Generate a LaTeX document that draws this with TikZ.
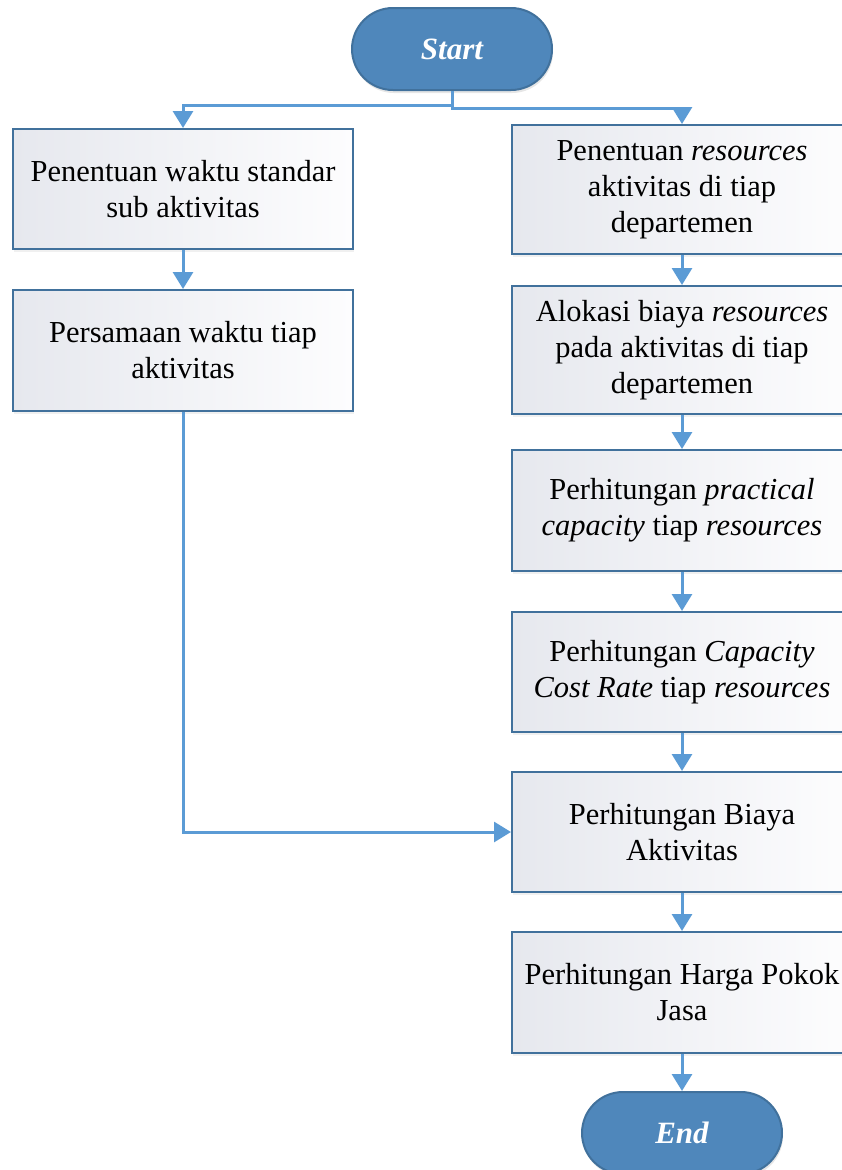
\documentclass[tikz,border=0pt]{standalone}
\usepackage{fontspec}
\setmainfont{Liberation Serif}
\usetikzlibrary{arrows.meta,shadows}
\definecolor{edge}{HTML}{41719C}
\definecolor{flow}{HTML}{5B9BD5}
\definecolor{term}{HTML}{4F87BB}
\definecolor{boxleft}{HTML}{E6E8EE}
\definecolor{boxright}{HTML}{FDFDFE}
\tikzset{
  procbox/.style={draw=edge, line width=2pt, rectangle, left color=boxleft, right color=boxright,
    minimum width=340pt, minimum height=120pt, inner sep=0pt, align=center,
    font=\fontsize{30.5}{36}\selectfont,
    drop shadow={shadow xshift=1pt, shadow yshift=-2.5pt, opacity=0.12}},
  terminal/.style={draw=edge, line width=2pt, rectangle, rounded corners=41pt, fill=term,
    minimum width=200pt, minimum height=82pt, inner sep=0pt, text=white,
    font=\fontsize{31}{36}\selectfont\bfseries\itshape,
    drop shadow={shadow xshift=1pt, shadow yshift=-3pt, opacity=0.2}},
  flowline/.style={draw=flow, line width=3pt, -{Triangle[width=20pt,length=17pt]}},
}
\begin{document}
\begin{tikzpicture}[x=1pt,y=-1pt]
  \useasboundingbox (0,0) rectangle (842,1170);
  \clip (0,0) rectangle (842,1170);

  % start / end terminators
  \node[terminal] (start) at (452,49) {Start};
  \node[terminal] (end) at (682,1133) {End};

  % left column
  \node[procbox] (L1) at (183,189) {Penentuan waktu standar\\sub aktivitas};
  \node[procbox, minimum height=121pt] (L2) at (183,350.5) {Persamaan waktu tiap\\aktivitas};

  % right column
  \node[procbox, minimum height=129pt] (R1) at (682,189.5) {Penentuan \textit{resources}\\aktivitas di tiap\\departemen};
  \node[procbox, minimum height=128pt] (R2) at (682,350) {Alokasi biaya \textit{resources}\\pada aktivitas di tiap\\departemen};
  \node[procbox, minimum height=121pt] (R3) at (682,510.5) {Perhitungan \textit{practical}\\\textit{capacity} tiap \textit{resources}};
  \node[procbox] (R4) at (682,672) {Perhitungan \textit{Capacity}\\\textit{Cost Rate} tiap \textit{resources}};
  \node[procbox] (R5) at (682,832) {Perhitungan Biaya\\Aktivitas};
  \node[procbox, minimum height=121pt] (R6) at (682,992.5) {Perhitungan Harga Pokok\\Jasa};

  % connectors
  \draw[flowline] (start.south) -- ++(0,14) -| (L1.north);
  \draw[flowline] (start.south) -- ++(0,17) -| (R1.north);
  \draw[flowline] (L1) -- (L2);
  \draw[flowline] (L2.south) |- (R5.west);
  \draw[flowline] (R1) -- (R2);
  \draw[flowline] (R2) -- (R3);
  \draw[flowline] (R3) -- (R4);
  \draw[flowline] (R4) -- (R5);
  \draw[flowline] (R5) -- (R6);
  \draw[flowline] (R6) -- (end);
\end{tikzpicture}
\end{document}
